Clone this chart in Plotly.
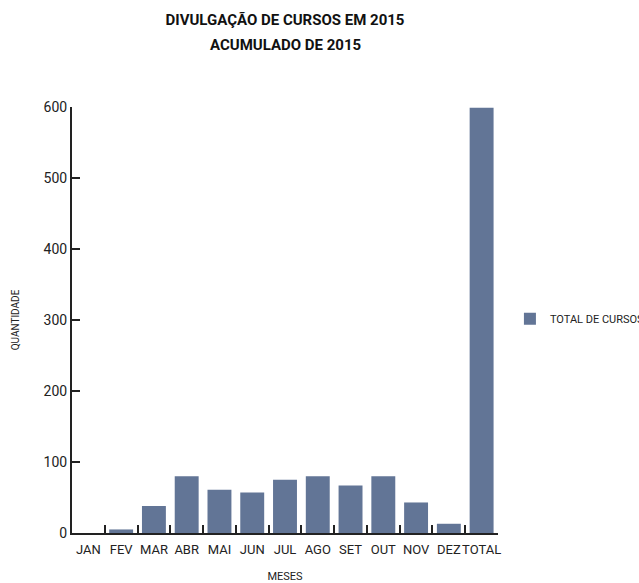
import plotly.graph_objects as go

categories = ["JAN", "FEV", "MAR", "ABR", "MAI", "JUN", "JUL", "AGO", "SET", "OUT", "NOV", "DEZ", "TOTAL"]
values = [0, 5, 38, 80, 61, 57, 75, 80, 67, 80, 43, 13, 599]
series_name = "TOTAL DE CURSOS"
y_ticks = [0, 100, 200, 300, 400, 500, 600]

FONT = "Roboto, sans-serif"

fig = go.Figure()
fig.add_trace(go.Bar(x=categories, y=values, name=series_name, marker_color="#627596",
                     marker_line_width=0, showlegend=True))

fig.update_layout(
    width=639, height=583,
    paper_bgcolor="white", plot_bgcolor="white",
    margin=dict(l=72, r=141, t=107, b=50, autoexpand=False),
    title=dict(text="<b>DIVULGAÇÃO DE CURSOS EM 2015</b>",
               x=0.5, xanchor="center", xref="paper", yref="container",
               y=1 - 20 / 583, yanchor="middle",
               font=dict(family=FONT, size=15, color="#111")),
    font=dict(family=FONT, color="#222"),
    bargap=0.27,
    showlegend=True,
    legend=dict(xref="paper", yref="paper", x=1.028, y=0.503, xanchor="left", yanchor="middle",
                font=dict(family=FONT, size=11, color="#222"), itemwidth=30),
    xaxis=dict(showline=True, linecolor="#222", linewidth=2,
               ticks="inside", tickson="boundaries", ticklen=8, tickwidth=2, tickcolor="#222",
               tickangle=0, ticklabelstandoff=3,
               tickfont=dict(family=FONT, size=13, color="#222"),
               title=dict(text="MESES", font=dict(family=FONT, size=11, color="#222"), standoff=17),
               showgrid=False, zeroline=False),
    yaxis=dict(range=[0, 600], tickvals=y_ticks, showline=True, linecolor="#222", linewidth=2,
               ticks="inside", ticklen=8, tickwidth=2, tickcolor="#222",
               tickfont=dict(family=FONT, size=14, color="#222"),
               title=dict(text="QUANTIDADE", font=dict(family=FONT, size=10, color="#222"), standoff=22),
               showgrid=False, zeroline=False),
)
fig.add_annotation(text="<b>ACUMULADO DE 2015</b>", xref="paper", yref="paper",
                   x=0.5, y=(583 - 50 - 45) / 426, xanchor="center", yanchor="middle",
                   showarrow=False, font=dict(family=FONT, size=15, color="#111"))

fig.write_html("out.html", config={"displayModeBar": False},
               post_script="document.body.style.margin='0';")
